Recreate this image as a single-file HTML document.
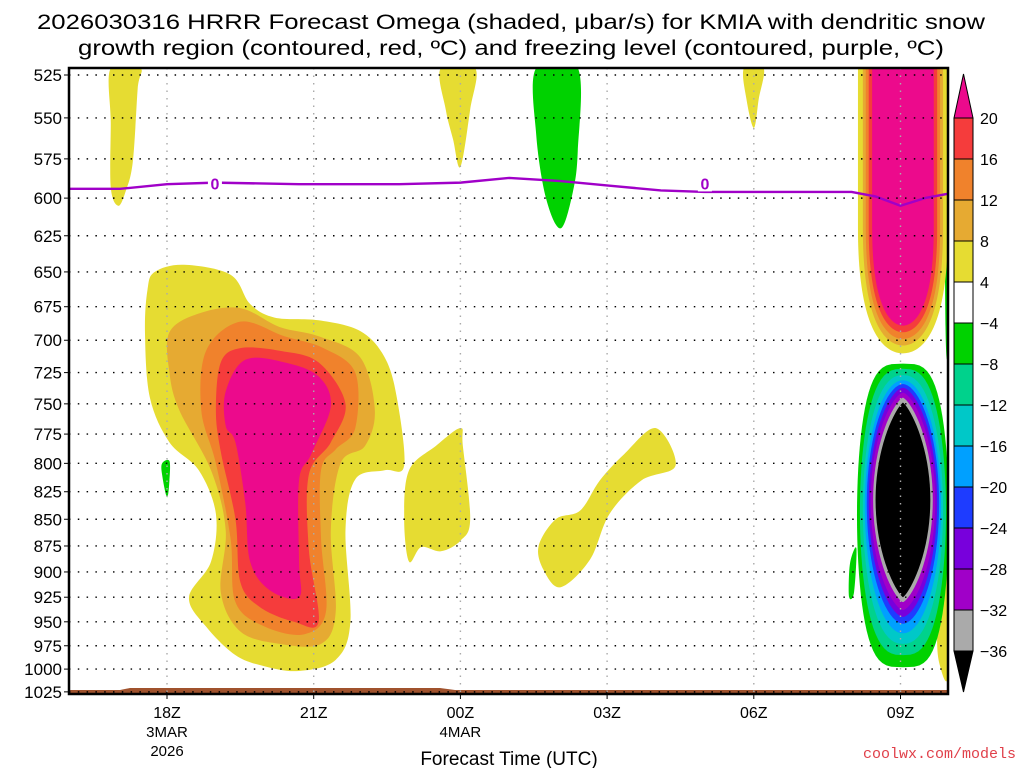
<!DOCTYPE html>
<html><head><meta charset="utf-8"><style>
html,body{margin:0;padding:0;background:#fff;width:1024px;height:768px;overflow:hidden}
svg{display:block;font-family:"Liberation Sans",sans-serif}
</style></head><body>
<svg id="chart" width="1024" height="768" viewBox="0 0 1024 768" xmlns="http://www.w3.org/2000/svg">
<text x="511" y="29" text-anchor="middle" font-size="21" textLength="948" lengthAdjust="spacingAndGlyphs" fill="#000">2026030316 HRRR Forecast Omega (shaded, μbar/s) for KMIA with dendritic snow</text>
<text x="511" y="55" text-anchor="middle" font-size="21" textLength="866" lengthAdjust="spacingAndGlyphs" fill="#000">growth region (contoured, red, ºC) and freezing level (contoured, purple, ºC)</text>
<g id="plot"></g>
<g id="cbar"></g>
<text x="509" y="765" text-anchor="middle" font-size="19" fill="#000">Forecast Time (UTC)</text>
<text x="1016" y="758" text-anchor="end" font-size="15" fill="#e0404a" font-family="Liberation Mono, monospace">coolwx.com/models</text>
</svg>
<script>
// ---- data ----
const pressureLevels=[525,550,575,600,625,650,675,700,725,750,775,800,825,850,875,900,925,950,975,1000,1025];
const timeTickHours=[0,3,6,9,12,15]; // hours after 18Z
const timeTickLabels=[["18Z","3MAR","2026"],["21Z"],["00Z","4MAR"],["03Z"],["06Z"],["09Z"]];
const cbarLabels=["20","16","12","8","4","\u22124","\u22128","\u221212","\u221216","\u221220","\u221224","\u221228","\u221232","\u221236"];
const cbarColors=["#f53c3c","#f0822c","#e6aa32","#e6dc32","#ffffff","#00d200","#00d28c","#00c8c8","#00a0ff","#1e3cff","#7800dc","#a000c8","#aaaaaa"];
const freezeHours=[-2,-0.96,0,0.98,2.7,4.75,6,7,8.05,9.05,10.1,11,12.1,12.95,14,14.5,15,15.5,16];
const freezeLevel=[594,594,591,590,591,591,590,587,589,592,595,596,596,596,596,599,605,600,597];
// left blob contours [hour, pressure]
const leftYellow=[[-0.4,663],[-0.25,650],[0.35,645],[1.3,652],[1.7,673],[2.2,683],[3.1,685],[3.95,693],[4.45,713],[4.7,745],[4.85,802],[4.45,806],[3.85,814],[3.65,860],[3.75,950],[3.45,990],[2.7,1002],[2.0,997],[1.4,985],[0.8,955],[0.45,925],[0.9,890],[1.0,845],[0.65,806],[0.05,782],[-0.35,745],[-0.45,695]];
const leftOrangeLight=[[0.05,694],[0.65,680],[1.5,676],[2.3,690],[3.1,697],[3.95,713],[4.25,755],[4.05,785],[3.55,800],[3.35,860],[3.45,940],[3.15,973],[2.3,973],[1.5,960],[1.1,920],[1.2,860],[0.9,806],[0.25,755],[0.05,725]];
const leftOrange=[[0.8,708],[1.5,686],[2.4,697],[3.2,706],[3.85,725],[3.85,770],[3.45,788],[3.15,806],[3.15,868],[3.25,940],[2.8,963],[2.0,955],[1.4,930],[1.3,868],[1.0,800],[0.7,755]];
const leftRed=[[1.1,717],[1.5,706],[2.3,708],[3.1,717],[3.65,750],[3.35,782],[2.9,810],[2.9,878],[3.1,950],[2.6,950],[1.9,935],[1.5,910],[1.4,850],[1.1,790],[1.0,755]];
const leftPink=[[1.2,740],[1.6,715],[2.4,717],[3.1,728],[3.35,752],[2.95,792],[2.7,815],[2.7,890],[2.7,925],[2.1,918],[1.7,890],[1.6,835],[1.4,782],[1.2,768]];
const greenDot=[[-0.1,800],[0.05,798],[0.05,815],[0,830],[-0.1,810]];
const yellowMid=[[4.95,806],[5.5,785],[6.0,770],[6.05,785],[6.2,850],[6.0,870],[5.6,880],[5.2,876],[4.95,890],[4.85,850]];
const yellow03z=[[7.6,875],[7.95,850],[8.45,842],[8.85,815],[9.35,792],[10.0,770],[10.4,802],[9.7,815],[9.05,845],[8.65,888],[8.05,915],[7.7,898]];
const yellowTop17z=[[-1.15,521],[-0.55,521],[-0.6,533],[-0.7,577],[-0.85,596],[-1.0,605],[-1.15,593],[-1.15,553]];
const yellowTop00z=[[5.6,521],[6.3,521],[6.2,545],[6.0,580],[5.85,563],[5.7,545]];
const yellowTop06z=[[11.8,521],[12.2,521],[12.1,539],[12.0,556],[11.85,539]];
const greenTop02z=[[7.55,521],[8.4,521],[8.4,570],[8.3,596],[8.05,620],[7.75,600],[7.55,560]];
const greenSmall08z=[[14.0,885],[14.1,878],[14.05,920],[13.95,925],[13.95,900]];
const yellowRightEdge=[[15.85,890],[15.98,880],[15.98,1005],[15.8,995],[15.75,960]];
const greenRightEdge=[[15.9,521],[15.98,521],[15.98,690],[15.92,690]];
// right upward-motion column: bottom pressure, half width (hours), colors
const rightPosBottom=[710,704,699,694,689];
const rightPosHalfW=[0.92,0.82,0.76,0.7,0.63];
const rightPosColors=["#e6dc32","#e6aa32","#f0822c","#f53c3c","#ec0a8c"];
// right downward-motion blob
const rightNegTop=[718,722,727,731,734,737,741,745,749];
const rightNegBottom=[998,985,973,962,952,945,938,930,925];
const rightNegHalfW=[0.94,0.88,0.82,0.78,0.74,0.7,0.66,0.61,0.56];
const rightNegColors=["#00d200","#00d28c","#00c8c8","#00a0ff","#1e3cff","#7800dc","#a000c8","#aaaaaa","#000000"];
const rightCenterHour=15.05;

// ---- axes ----
const L=69,R=948,T=68,B=694;
const xS=h=>167+h*48.9;
const yS=p=>75+922*Math.log(p/525);
const NS="http://www.w3.org/2000/svg";
const plot=document.getElementById('plot');
const cbar=document.getElementById('cbar');
function mk(tag,attrs,parent){const e=document.createElementNS(NS,tag);for(const k in attrs)e.setAttribute(k,attrs[k]);parent.appendChild(e);return e;}
function smoothPath(pts){
  const P=pts.map(([h,p])=>[xS(h),yS(p)]);const n=P.length;let d=`M${P[0][0]},${P[0][1]}`;
  for(let i=0;i<n;i++){const p0=P[(i-1+n)%n],p1=P[i],p2=P[(i+1)%n],p3=P[(i+2)%n];
    d+=`C${p1[0]+(p2[0]-p0[0])/6},${p1[1]+(p2[1]-p0[1])/6} ${p2[0]-(p3[0]-p1[0])/6},${p2[1]-(p3[1]-p1[1])/6} ${p2[0]},${p2[1]}`;}
  return d+'Z';}
const defs=mk('defs',{},plot);
const cp=mk('clipPath',{id:'pc'},defs);mk('rect',{x:L,y:T,width:R-L,height:B-T},cp);
const g=mk('g',{'clip-path':'url(#pc)'},plot);


function fill(pts,color,name){const e=mk('path',{d:smoothPath(pts),fill:color},g);
  
  }
fill(yellowTop17z,"#e6dc32","omega-top-17z");
fill(yellowTop00z,"#e6dc32","omega-top-00z");
fill(yellowTop06z,"#e6dc32","omega-top-06z");
fill(greenTop02z,"#00d200","omega-top-02z");
fill(leftYellow,"#e6dc32","omega-left-4");
fill(leftOrangeLight,"#e6aa32","omega-left-8");
fill(leftOrange,"#f0822c","omega-left-12");
fill(leftRed,"#f53c3c","omega-left-16");
fill(leftPink,"#ec0a8c","omega-left-20");
fill(greenDot,"#00d200","omega-green-dot");
fill(yellowMid,"#e6dc32","omega-mid-00z");
fill(yellow03z,"#e6dc32","omega-mid-03z");
fill(greenSmall08z,"#00d200","omega-green-08z");
fill(yellowRightEdge,"#e6dc32","omega-right-edge");
fill(greenRightEdge,"#00d200","omega-right-edge-green");
// right positive column
rightPosBottom.forEach((pb,i)=>{const hw=rightPosHalfW[i],c=rightCenterHour;
  const e=mk('path',{fill:rightPosColors[i]},g);
  const ys=yS(620),yb=yS(pb);
  e.setAttribute('d',`M${xS(c-hw)},${yS(500)} L${xS(c+hw)},${yS(500)} L${xS(c+hw)},${ys} C${xS(c+hw)},${yb-15} ${xS(c+hw*0.35)},${yb} ${xS(c)},${yb} C${xS(c-hw*0.35)},${yb} ${xS(c-hw)},${yb-15} ${xS(c-hw)},${ys} Z`);
  
  });
// right negative blob
const negExp=[0.55,0.7,0.85,1.0,1.1,1.2,1.3,1.45,1.6];
rightNegTop.forEach((pt,i)=>{const c=rightCenterHour,hw=rightNegHalfW[i],pb=rightNegBottom[i];
  const yt=yS(pt),yb=yS(pb),ex=negExp[i];let d='';
  for(let k=0;k<=80;k++){const t=k/80*2*Math.PI;const s=Math.sin(t);
    const x=xS(c)+Math.sign(s)*Math.pow(Math.abs(s),ex)*hw*48.9;
    const y=yt+(yb-yt)*(1-Math.cos(t))/2;d+=(k?'L':'M')+x+','+y;}
  const e=mk('path',{d:d+'Z',fill:rightNegColors[i]},g);
  
  });
// ground
const gr=mk('path',{d:`M${L},${B-4} L120,${B-4} L130,${B-6} L440,${B-6} L455,${B-4} L${R},${B-4} L${R},${B} L${L},${B}Z`,fill:'#a0522d'},g);


// grid
pressureLevels.forEach(p=>{const y=yS(p);
  const l=mk('line',{x1:L,x2:R,y1:y,y2:y,stroke:'#000','stroke-width':1.4,'stroke-dasharray':'1.5 7.3'},plot);
  
  
  const tk=mk('line',{x1:L-5,x2:L,y1:y,y2:y,stroke:'#000','stroke-width':1},plot);
  
  
  const t=mk('text',{x:L-7,y:y+6,'text-anchor':'end','font-size':17,fill:'#000'},plot);t.textContent=p;
  
  });
timeTickHours.forEach((h,i)=>{const x=xS(h);
  const l=mk('line',{x1:x,x2:x,y1:T,y2:B,stroke:'#aaa','stroke-width':1.4,'stroke-dasharray':'1.5 6'},plot);
  
  
  const tk=mk('line',{x1:x,x2:x,y1:B,y2:B+5,stroke:'#000'},plot);
  
  
  timeTickLabels[i].forEach((s,j)=>{const t=mk('text',{x:x,y:718+j*19,'text-anchor':'middle','font-size':j?15:16,fill:'#000'},plot);t.textContent=s;
    
    });});
// freezing level
let fd='';const fp=freezeHours.map((h,i)=>[xS(h),yS(freezeLevel[i])]);
fp.forEach((q,i)=>{fd+=(i?'L':'M')+q[0]+','+q[1];});
const fl=mk('path',{d:fd,fill:'none',stroke:'#a000c8','stroke-width':2.4,'stroke-linejoin':'round'},g);


[0.98,11].forEach(h=>{const y=yS(590.5);const x=xS(h);
  mk('rect',{x:x-7,y:y-8,width:14,height:16,fill:'#fff'},g);
  const t=mk('text',{x:x,y:y+6,'text-anchor':'middle','font-size':16,'font-weight':'bold',fill:'#a000c8'},g);t.textContent='0';
  
  });
const fr=mk('rect',{x:L,y:T,width:R-L,height:B-T,fill:'none',stroke:'#000','stroke-width':2.5},plot);


// colorbar
const cx=954,cw=19,c0=118,ch=41;
const ta=mk('path',{d:`M${cx},${c0} L${cx+cw/2},74 L${cx+cw},${c0}Z`,fill:'#ec0a8c',stroke:'#000'},cbar);


cbarColors.forEach((c,i)=>{const r=mk('rect',{x:cx,y:c0+i*ch,width:cw,height:ch,fill:c,stroke:'#000','stroke-width':1},cbar);
  
  });
const yEnd=c0+cbarColors.length*ch;
const ba=mk('path',{d:`M${cx},${yEnd} L${cx+cw/2},692 L${cx+cw},${yEnd}Z`,fill:'#000',stroke:'#000'},cbar);


cbarLabels.forEach((s,i)=>{const t=mk('text',{x:cx+cw+7,y:c0+i*ch+6,'font-size':16,fill:'#000'},cbar);t.textContent=s;
  
  });
</script>
</body></html>
